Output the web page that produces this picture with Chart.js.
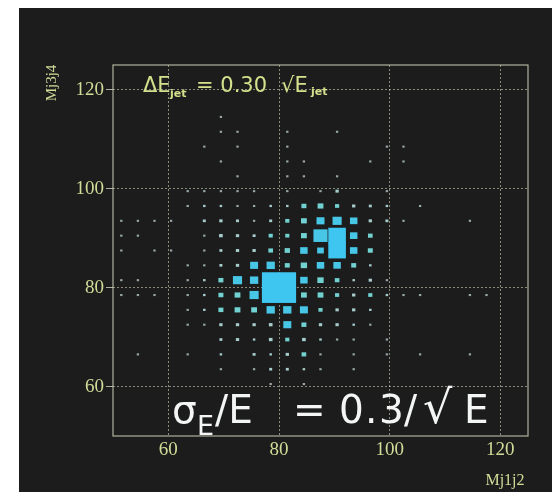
<!DOCTYPE html>
<html>
<head>
<meta charset="utf-8">
<script src="https://cdn.jsdelivr.net/npm/chart.js@4.4.1/dist/chart.umd.min.js"></script>
<style>
  html, body { margin: 0; padding: 0; background: #ffffff; }
  #panel {
    position: absolute;
    left: 19px;
    top: 8px;
    width: 533px;
    height: 484px;
    background: #1c1c1c;
  }
</style>
</head>
<body>
<div id="panel"><canvas id="lego"></canvas></div>
<script>
// bin centres (3 GeV bins from 50 to 125)
const xBinCenters = [51.5, 54.5, 57.5, 60.5, 63.5, 66.5, 69.5, 72.5, 75.5, 78.5, 81.5, 84.5, 87.5,
  90.5, 93.5, 96.5, 99.5, 102.5, 105.5, 108.5, 111.5, 114.5, 117.5, 120.5, 123.5];
// rows listed from the top of the plot downwards
const yBinCenters = [123.5, 120.5, 117.5, 114.5, 111.5, 108.5, 105.5, 102.5, 99.5, 96.5, 93.5, 90.5, 87.5,
  84.5, 81.5, 78.5, 75.5, 72.5, 69.5, 66.5, 63.5, 60.5, 57.5, 54.5, 51.5];

// relative bin contents (100 = full box), one row per yBinCenters entry
const counts = [
  [0,0,0,0,0,0,0,0,0,0,0,0,0,0,0,0,0,0,0,0,0,0,0,0,0],
  [0,0,0,0,0,0,0,0,0,0,0,0,0,0,0,0,0,0,0,0,0,0,0,0,0],
  [0,0,0,0,0,0,0,0,0,0,0,0,0,0,0,0,0,0,0,0,0,0,0,0,0],
  [0,0,0,0,0,0,8,0,0,0,0,0,0,0,0,0,0,0,0,0,0,0,0,0,0],
  [0,0,0,0,0,0,12,12,0,0,8,0,0,8,0,0,0,0,0,0,0,0,0,0,0],
  [0,0,0,0,0,12,0,12,0,0,8,0,0,0,0,0,12,12,0,0,0,0,0,0,0],
  [0,0,0,0,0,0,12,0,0,0,8,8,0,0,0,12,0,8,0,0,0,0,0,0,0],
  [0,0,0,0,0,0,0,12,0,0,8,12,0,8,0,0,0,0,0,0,0,0,0,0,0],
  [0,0,0,0,8,10,10,12,10,0,12,0,8,20,0,0,8,0,0,0,0,0,0,0,0],
  [0,0,0,0,10,15,15,12,12,15,15,30,35,25,20,18,15,0,10,0,0,0,0,0,0],
  [10,8,10,8,0,18,20,18,12,18,25,35,48,55,45,20,18,10,0,0,0,10,0,0,0],
  [10,10,0,0,0,12,22,20,18,25,25,35,85,100,45,28,0,0,0,0,0,0,0,0,0],
  [10,0,10,10,0,12,18,20,20,28,32,45,40,100,45,30,0,0,0,0,0,0,0,0,0],
  [0,0,0,0,10,12,18,20,48,50,30,38,45,45,30,15,0,0,0,0,0,0,0,0,0],
  [8,8,0,0,10,15,30,55,50,100,100,45,38,28,15,20,12,0,0,0,0,0,0,0,0],
  [10,12,10,0,10,15,30,35,55,100,100,35,35,25,20,25,15,10,8,0,0,12,12,0,0],
  [0,0,0,0,10,15,30,35,35,50,50,48,25,20,20,15,0,0,0,0,0,0,0,0,0],
  [0,0,0,0,10,10,20,20,20,22,48,30,20,20,15,10,0,0,0,0,0,0,0,0,0],
  [0,0,0,0,0,0,18,20,15,22,25,22,15,12,12,0,10,0,0,0,0,0,0,0,0],
  [0,8,0,0,8,0,15,0,18,15,20,28,12,0,10,0,10,0,8,0,0,8,0,0,0],
  [0,0,0,0,0,0,12,0,12,18,18,15,12,0,10,0,0,0,0,0,0,0,0,0,0],
  [0,0,0,0,0,0,0,0,0,8,0,10,0,0,0,0,0,0,0,0,0,0,0,0,0],
  [0,0,0,0,0,0,0,0,0,0,0,0,0,0,0,0,0,0,0,0,0,0,0,0,0],
  [0,0,0,0,0,0,0,0,0,0,0,0,0,0,0,0,0,0,0,0,0,0,0,0,0],
  [0,0,0,0,0,0,0,0,0,0,0,0,0,0,0,0,0,0,0,0,0,0,0,0,0]
];

const tickValues = [60, 80, 100, 120];
const tickLabels = ['60', '80', '100', '120'];
const axisMin = 50;
const axisMax = 125;
const binWidth = 3;
const maxCount = 100;

const textColor = '#d2dc98';
const gridColor = 'rgba(210, 214, 185, 0.6)';
const frameColor = 'rgba(200, 205, 180, 0.85)';

// 빈 좌표 목록 (0 은 제외)
const points = [];
counts.forEach((row, r) => {
  row.forEach((v, c) => {
    if (v > 0) points.push({ x: xBinCenters[c], y: yBinCenters[r], v: v });
  });
});

function boxColor(v) {
  if (v >= 90) return '#3ec6f0';
  if (v >= 40) return '#48c6e6';
  if (v >= 25) return '#72d2d2';
  if (v >= 15) return '#a6cccc';
  return '#9aa8a8';
}

// 박스 히스토그램 그리기
const boxPlugin = {
  id: 'boxes',
  afterDatasetsDraw(chart) {
    const ctx = chart.ctx;
    const xs = chart.scales.x;
    const ys = chart.scales.y;
    const data = chart.data.datasets[0].data;
    ctx.save();
    data.forEach(p => {
      const f = Math.max(p.v / maxCount, 0.14);
      const half = binWidth / 2 * f;
      const x0 = xs.getPixelForValue(p.x - half);
      const x1 = xs.getPixelForValue(p.x + half);
      const y0 = ys.getPixelForValue(p.y + half);
      const y1 = ys.getPixelForValue(p.y - half);
      ctx.fillStyle = boxColor(p.v);
      const pad = p.v >= 90 ? 0.5 : 0;
      ctx.fillRect(x0 - pad, y0 - pad, x1 - x0 + 2 * pad, y1 - y0 + 2 * pad);
    });
    ctx.restore();
  }
};

// 프레임, 축 제목, 주석
const decoPlugin = {
  id: 'deco',
  afterDraw(chart) {
    const ctx = chart.ctx;
    const a = chart.chartArea;
    ctx.save();

    ctx.strokeStyle = frameColor;
    ctx.lineWidth = 1.2;
    ctx.strokeRect(a.left, a.top, a.right - a.left, a.bottom - a.top);

    // axis titles
    ctx.fillStyle = textColor;
    ctx.textBaseline = 'middle';
    ctx.textAlign = 'center';
    ctx.font = '15px "Liberation Serif"';
    ctx.save();
    ctx.translate(33, 75);
    ctx.rotate(-Math.PI / 2);
    ctx.fillText('Mj3j4', 0, 0);
    ctx.restore();
    ctx.font = '16px "Liberation Serif"';
    ctx.fillText('Mj1j2', 486, 473);

    // resolution label at top
    ctx.textAlign = 'left';
    ctx.textBaseline = 'alphabetic';
    ctx.fillStyle = '#d4e08c';
    ctx.font = '21px "DejaVu Sans"';
    ctx.fillText('\u0394E', 124, 84);
    ctx.fillText('= 0.30', 177, 84);
    ctx.fillText('\u221AE', 262, 84);
    ctx.font = 'bold 11px "DejaVu Sans"';
    ctx.fillText('jet', 151, 89);
    ctx.fillText('jet', 292, 87);

    // big formula at bottom
    ctx.fillStyle = '#f4f6f6';
    ctx.font = '39px "DejaVu Sans"';
    const base = 415;
    ctx.fillText('\u03C3', 153, base);
    ctx.fillText('/E', 196, base);
    ctx.fillText('=', 274, base);
    ctx.fillText('0', 320, base);
    ctx.fillText('.', 346, base);
    ctx.fillText('3', 360, base);
    ctx.fillText('/', 385, base);
    ctx.fillText('E', 445, base);
    ctx.font = '46px "DejaVu Sans"';
    ctx.fillText('\u221A', 404, base);
    ctx.font = '27px "DejaVu Sans"';
    ctx.fillText('E', 178, 427);

    ctx.restore();
  }
};

function axisOptions(isX) {
  return {
    type: 'linear',
    min: axisMin,
    max: axisMax,
    afterBuildTicks: axis => {
      axis.ticks = tickValues.map(v => ({ value: v }));
    },
    afterFit: scale => {
      if (isX) scale.height = 56;
      else scale.width = 94;
    },
    border: { display: false, dash: [2, 2] },
    grid: {
      color: gridColor,
      lineWidth: 1,
      drawTicks: !isX,
      tickLength: 7,
      tickColor: frameColor,
      tickBorderDash: []
    },
    ticks: {
      color: textColor,
      padding: isX ? 3 : 2,
      font: { family: '"Liberation Serif"', size: 19 },
      callback: v => tickLabels[tickValues.indexOf(v)] || ''
    }
  };
}

new Chart(document.getElementById('lego'), {
  type: 'scatter',
  data: {
    datasets: [{
      label: 'Mj1j2 vs Mj3j4',
      data: points,
      pointRadius: 0,
      pointHoverRadius: 0,
      showLine: false
    }]
  },
  options: {
    responsive: true,
    maintainAspectRatio: false,
    animation: false,
    layout: {
      padding: { top: 57, right: 24, left: 0, bottom: 0 }
    },
    plugins: {
      legend: { display: false },
      tooltip: { enabled: false }
    },
    scales: {
      x: axisOptions(true),
      y: axisOptions(false)
    }
  },
  plugins: [boxPlugin, decoPlugin]
});
</script>
</body>
</html>
